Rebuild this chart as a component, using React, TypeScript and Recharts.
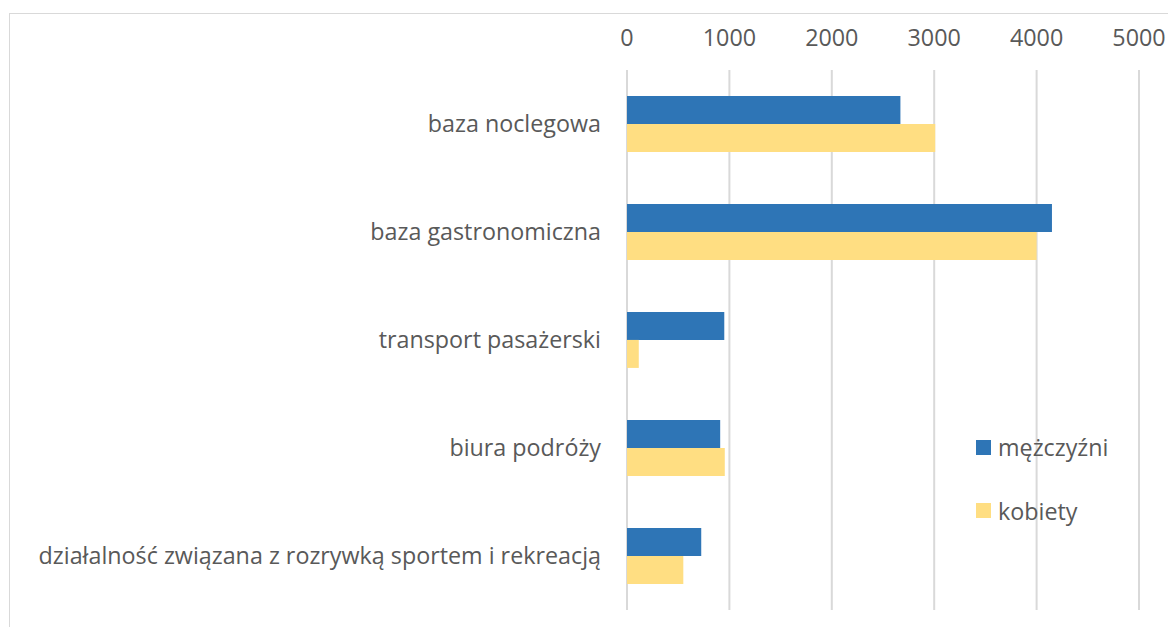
import React from 'react';
import { BarChart, Bar, XAxis, YAxis, CartesianGrid } from 'recharts';

// kategorie i wartości
const categories = [
  'baza noclegowa',
  'baza gastronomiczna',
  'transport pasażerski',
  'biura podróży',
  'działalność związana z rozrywką sportem i rekreacją',
];
const mezczyzni = [2670, 4150, 950, 910, 725];
const kobiety = [3010, 4000, 115, 955, 550];
const xTicks = [0, 1000, 2000, 3000, 4000, 5000];

const seriesNames = { m: 'mężczyźni', k: 'kobiety' };
const BLUE = '#2E75B6';
const GOLD = '#FFDE82';
const TEXT = '#595959';
const FONT = '"Open Sans", sans-serif';
const FS = 23.3;

const data = categories.map((name, i) => ({ name, m: mezczyzni[i], k: kobiety[i] }));

function LegendBox() {
  const items = [
    { label: seriesNames.m, color: BLUE },
    { label: seriesNames.k, color: GOLD },
  ];
  return (
    <div style={{ position: 'absolute', left: 976, top: 433, fontFamily: FONT, fontSize: FS, color: TEXT }}>
      {items.map((it, i) => (
        <div key={it.label} style={{ display: 'flex', alignItems: 'center', height: 28, marginBottom: i === 0 ? 35.5 : 0 }}>
          <span style={{ width: 15, height: 15, background: it.color, display: 'inline-block', marginRight: 7 }} />
          <span>{it.label}</span>
        </div>
      ))}
    </div>
  );
}

export default function App() {
  return (
    <div style={{ position: 'relative', width: 1176, height: 635, margin: -8, overflow: 'hidden', background: '#fff' }}>
      {/* ramka wykresu, ucięta z prawej i u dołu */}
      <div style={{ position: 'absolute', left: 9, top: 13, width: 1200, height: 700, border: '1px solid #d9d9d9' }} />
      <div style={{ position: 'absolute', left: 0, top: 0 }}>
        <BarChart
          width={1176}
          height={635}
          data={data}
          layout="vertical"
          margin={{ top: 0, right: 37, left: 0, bottom: 25 }}
          barCategoryGap="24%"
          barGap={0}
        >
          <CartesianGrid horizontal={false} stroke="#d9d9d9" strokeWidth={2} />
          <XAxis
            type="number"
            orientation="top"
            domain={[0, 5000]}
            ticks={xTicks}
            axisLine={false}
            tickLine={false}
            height={70}
            tickMargin={18}
            tick={{ fill: TEXT, fontSize: FS, fontFamily: FONT }}
          />
          <YAxis
            type="category"
            dataKey="name"
            width={627}
            axisLine={false}
            tickLine={false}
            tickMargin={20}
            tick={{ fill: TEXT, fontSize: FS, fontFamily: FONT }}
          />
          <Bar dataKey="m" name={seriesNames.m} fill={BLUE} isAnimationActive={false} />
          <Bar dataKey="k" name={seriesNames.k} fill={GOLD} isAnimationActive={false} />
        </BarChart>
      </div>
      <LegendBox />
    </div>
  );
}
